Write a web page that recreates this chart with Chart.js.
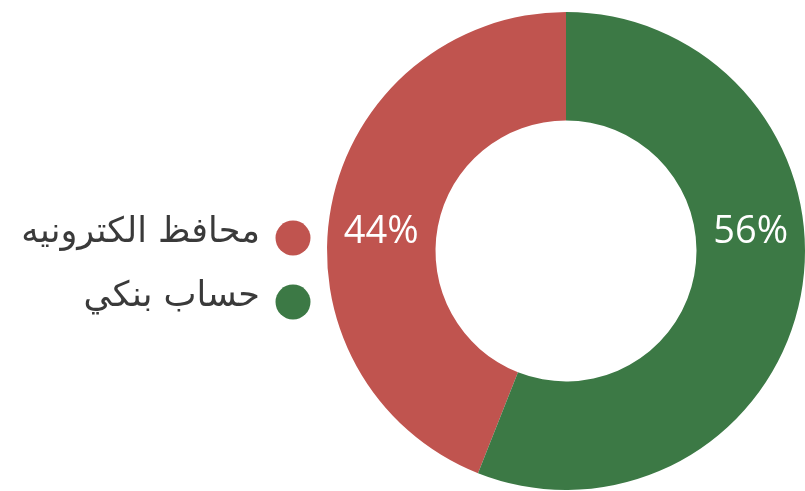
<!DOCTYPE html>
<html>
<head>
<meta charset="utf-8">
<script src="https://cdn.jsdelivr.net/npm/chart.js@4/dist/chart.umd.min.js"></script>
<style>
  html, body { margin: 0; padding: 0; background: #fff; }
  #wrap { width: 805px; height: 491px; position: relative; }
</style>
</head>
<body>
<div id="wrap"><canvas id="chart"></canvas></div>
<script>
// chart data
const labels = ['محافظ الكترونيه', 'حساب بنكي'];
const values = [44, 56];
const colors = ['#C0544F', '#3C7945'];

// percent text in the middle of each ring half
const pctLabels = {
    id: 'pctLabels',
    afterDatasetsDraw(chart) {
        const ctx = chart.ctx;
        const meta = chart.getDatasetMeta(0);
        const total = values.reduce((a, b) => a + b, 0);
        ctx.save();
        ctx.fillStyle = '#fff';
        ctx.font = '38px "Open Sans", "Noto Sans", sans-serif';
        ctx.textAlign = 'center';
        ctx.textBaseline = 'middle';
        meta.data.forEach((arc, i) => {
            const p = arc.getProps(['x', 'y', 'startAngle', 'endAngle', 'innerRadius', 'outerRadius'], true);
            const mid = (p.startAngle + p.endAngle) / 2;
            const r = (p.innerRadius + p.outerRadius) / 2;
            const side = Math.cos(mid) < 0 ? -1 : 1;
            const txt = Math.round(values[i] / total * 100) + '%';
            ctx.fillText(txt, p.x + side * r, p.y - 19);
        });
        ctx.restore();
    }
};

// legend on the left, right to left
const sideLegend = {
    id: 'sideLegend',
    afterDraw(chart) {
        const ctx = chart.ctx;
        ctx.save();
        ctx.font = '35px "DejaVu Sans", sans-serif';
        ctx.textAlign = 'right';
        ctx.textBaseline = 'middle';
        ctx.direction = 'rtl';
        labels.forEach((lab, i) => {
            const y = 238 + i * 64;
            ctx.fillStyle = colors[i];
            ctx.beginPath();
            ctx.arc(293, y, 17.5, 0, Math.PI * 2);
            ctx.fill();
            ctx.fillStyle = '#3a3a3a';
            ctx.fillText(lab, 260, y - 5);
        });
        ctx.restore();
    }
};

new Chart(document.getElementById('chart'), {
    type: 'doughnut',
    data: {
        labels: labels,
        datasets: [{
            data: values,
            backgroundColor: colors,
            borderWidth: 0
        }]
    },
    options: {
        responsive: true,
        maintainAspectRatio: false,
        animation: false,
        cutout: '54.6%',
        rotation: 201.6,
        layout: { padding: { left: 327, right: -2, top: 11, bottom: 0 } },
        plugins: {
            legend: { display: false },
            tooltip: { enabled: false }
        }
    },
    plugins: [pctLabels, sideLegend]
});
</script>
</body>
</html>
